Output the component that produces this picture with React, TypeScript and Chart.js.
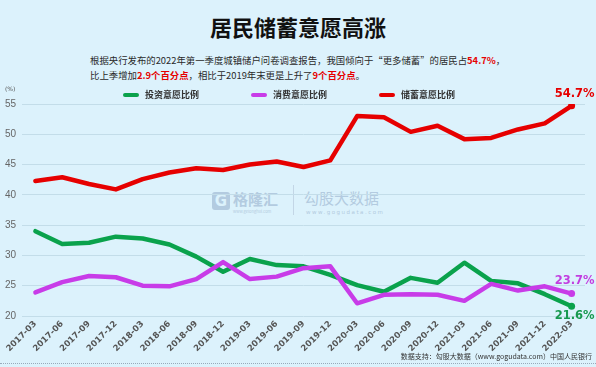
import React, { useEffect, useRef } from "react";
import { Chart, registerables } from "chart.js";

Chart.register(...registerables);

const categories = [
  "2017-03", "2017-06", "2017-09", "2017-12",
  "2018-03", "2018-06", "2018-09", "2018-12",
  "2019-03", "2019-06", "2019-09", "2019-12",
  "2020-03", "2020-06", "2020-09", "2020-12",
  "2021-03", "2021-06", "2021-09", "2021-12",
  "2022-03",
];
const investmentShare = [34.0, 31.9, 32.1, 33.1, 32.8, 31.8, 29.8, 27.3, 29.4, 28.4, 28.2, 26.8, 25.1, 24.0, 26.3, 25.5, 28.8, 25.8, 25.4, 23.6, 21.6];
const consumptionShare = [23.9, 25.6, 26.6, 26.4, 25.0, 24.9, 26.1, 28.9, 26.1, 26.5, 27.9, 28.2, 22.1, 23.5, 23.6, 23.5, 22.5, 25.3, 24.2, 24.9, 23.7];
const savingsShare = [42.3, 42.9, 41.8, 40.9, 42.6, 43.7, 44.4, 44.1, 45.0, 45.5, 44.6, 45.7, 53.0, 52.8, 50.4, 51.4, 49.2, 49.4, 50.8, 51.8, 54.7];
const seriesNames = ["投资意愿比例", "消费意愿比例", "储蓄意愿比例"];
const yTicks = [20, 25, 30, 35, 40, 45, 50, 55];

const GREEN = "#0aa24c";
const PURPLE = "#c83ce8";
const RED = "#e60000";
const BG = "#dcf2fc";
const CJK = '"Noto Sans CJK SC", "Noto Sans", sans-serif';

const endLabelPlugin = {
  id: "endLabels",
  afterDatasetsDraw(chart: any) {
    const ctx = chart.ctx;
    const specs = [
      { ds: 2, color: RED, dy: -12 },
      { ds: 1, color: "#c23ee0", dy: -13 },
      { ds: 0, color: "#17994f", dy: 10 },
    ];
    ctx.save();
    ctx.font = 'bold 11.5px "DejaVu Sans", sans-serif';
    ctx.textAlign = "center";
    ctx.textBaseline = "middle";
    for (const s of specs) {
      const meta = chart.getDatasetMeta(s.ds);
      const pt = meta.data[meta.data.length - 1];
      const data = chart.data.datasets[s.ds].data;
      const v = data[data.length - 1];
      ctx.fillStyle = s.color;
      ctx.fillText(v.toFixed(1) + "%", pt.x + 3, pt.y + s.dy);
    }
    ctx.restore();
  },
};

function lastDot(n: number, r: number) {
  return Array.from({ length: n }, (_, i) => (i === n - 1 ? r : 0));
}

export default function App() {
  const ref = useRef<HTMLCanvasElement>(null);

  useEffect(() => {
    const canvas = ref.current!;
    const n = categories.length;
    const common = {
      borderWidth: 4.5,
      tension: 0,
      borderJoinStyle: "round" as const,
      borderCapStyle: "round" as const,
      pointRadius: lastDot(n, 3.5),
      pointBorderWidth: 0,
      fill: false,
    };
    const chart = new Chart(canvas, {
      type: "line",
      data: {
        labels: categories,
        datasets: [
          { ...common, label: seriesNames[0], data: investmentShare, borderColor: GREEN, backgroundColor: GREEN, order: 3 },
          { ...common, label: seriesNames[1], data: consumptionShare, borderColor: PURPLE, backgroundColor: PURPLE, order: 2 },
          { ...common, label: seriesNames[2], data: savingsShare, borderColor: RED, backgroundColor: RED, order: 1 },
        ],
      },
      options: {
        animation: false,
        responsive: false,
        devicePixelRatio: 1,
        layout: { padding: { top: 104, right: 11, left: 0, bottom: 0 } },
        plugins: { legend: { display: false }, tooltip: { enabled: false }, title: { display: false } },
        scales: {
          x: {
            offset: true,
            grid: { display: false, drawTicks: false },
            border: { display: false },
            ticks: {
              autoSkip: false,
              minRotation: 45,
              maxRotation: 45,
              padding: 3,
              color: "#555",
              font: { size: 8.5, weight: "bold", family: '"DejaVu Sans", sans-serif' },
            },
            afterFit(scale: any) { scale.height = 51; },
          },
          y: {
            min: 20,
            max: 55,
            afterBuildTicks(scale: any) { scale.ticks = yTicks.map((v) => ({ value: v })); },
            grid: { color: "#c3dde9", lineWidth: 1, drawTicks: false },
            border: { display: false },
            ticks: {
              padding: 6,
              color: "#666",
              font: { size: 10, family: '"Liberation Sans", Arial, sans-serif' },
            },
            afterFit(scale: any) { scale.width = 22; },
          },
        },
      },
      plugins: [endLabelPlugin],
    });
    return () => chart.destroy();
  }, []);

  const legendItems = [
    { x: 123, color: GREEN, text: seriesNames[0] },
    { x: 251, color: PURPLE, text: seriesNames[1] },
    { x: 379, color: RED, text: seriesNames[2] },
  ];

  return (
    <div style={{ position: "fixed", left: 0, top: 0, width: 596, height: 367, background: BG, overflow: "hidden", fontFamily: CJK }}>
      <div style={{ position: "absolute", left: 0, width: 596, top: 11, textAlign: "center", fontSize: 22, fontWeight: 700, color: "#111", lineHeight: "30px" }}>
        居民储蓄意愿高涨
      </div>
      <div style={{ position: "absolute", left: 90, top: 53, fontSize: 9.4, color: "#2a2a2a", lineHeight: "15px", whiteSpace: "nowrap" }}>
        <div>
          根据央行发布的2022年第一季度城镇储户问卷调查报告，我国倾向于“更多储蓄”的居民占
          <span style={{ color: RED, fontWeight: 700 }}>54.7%</span>，
        </div>
        <div>
          比上季增加<span style={{ color: RED, fontWeight: 700 }}>2.9个百分点</span>，相比于2019年末更是上升了
          <span style={{ color: RED, fontWeight: 700 }}>9个百分点</span>。
        </div>
      </div>
      {/* watermarks */}
      <div style={{ position: "absolute", left: 212, top: 192, width: 18, height: 18, borderRadius: 3, background: "#b3cbe0", color: BG, fontSize: 15, fontWeight: 700, lineHeight: "18px", textAlign: "center", fontFamily: '"DejaVu Sans", sans-serif' }}>G</div>
      <div style={{ position: "absolute", left: 233, top: 190, fontSize: 15, color: "#b3cbe0", fontWeight: 700, lineHeight: "18px" }}>格隆汇</div>
      <div style={{ position: "absolute", left: 233, top: 209, fontSize: 4, color: "#b3cbe0", lineHeight: "5px" }}>www.gelonghui.com</div>
      <div style={{ position: "absolute", left: 293, top: 185, width: 1, height: 30, background: "#c3d6e6" }} />
      <div style={{ position: "absolute", left: 304, top: 189, fontSize: 15, color: "#b3cbe0", lineHeight: "18px" }}>勾股大数据</div>
      <div style={{ position: "absolute", left: 306, top: 209, fontSize: 5.5, color: "#b3cbe0", lineHeight: "7px", letterSpacing: 1.5, fontFamily: '"DejaVu Sans", sans-serif' }}>www.gogudata.com</div>
      <canvas ref={ref} width={596} height={367} style={{ position: "absolute", left: 0, top: 0, width: 596, height: 367 }} />
      <div style={{ position: "absolute", left: 5, top: 85, fontSize: 6, color: "#555", fontFamily: '"DejaVu Sans", sans-serif' }}>(%)</div>
      {legendItems.map((it) => (
        <div key={it.text} style={{ position: "absolute", left: it.x, top: 88, height: 14, display: "flex", alignItems: "center" }}>
          <div style={{ width: 16, height: 4, borderRadius: 2, background: it.color, marginRight: 6 }} />
          <div style={{ fontSize: 9, fontWeight: 700, color: "#333", lineHeight: "14px", whiteSpace: "nowrap" }}>{it.text}</div>
        </div>
      ))}
      <div style={{ position: "absolute", right: 4, top: 351, fontSize: 7, color: "#333", lineHeight: "10px", whiteSpace: "nowrap" }}>
        数据支持：勾股大数据（www.gogudata.com）中国人民银行
      </div>
      <div style={{ position: "absolute", left: 0, width: 596, top: 363, borderTop: "1px dotted #9ab" }} />
    </div>
  );
}
